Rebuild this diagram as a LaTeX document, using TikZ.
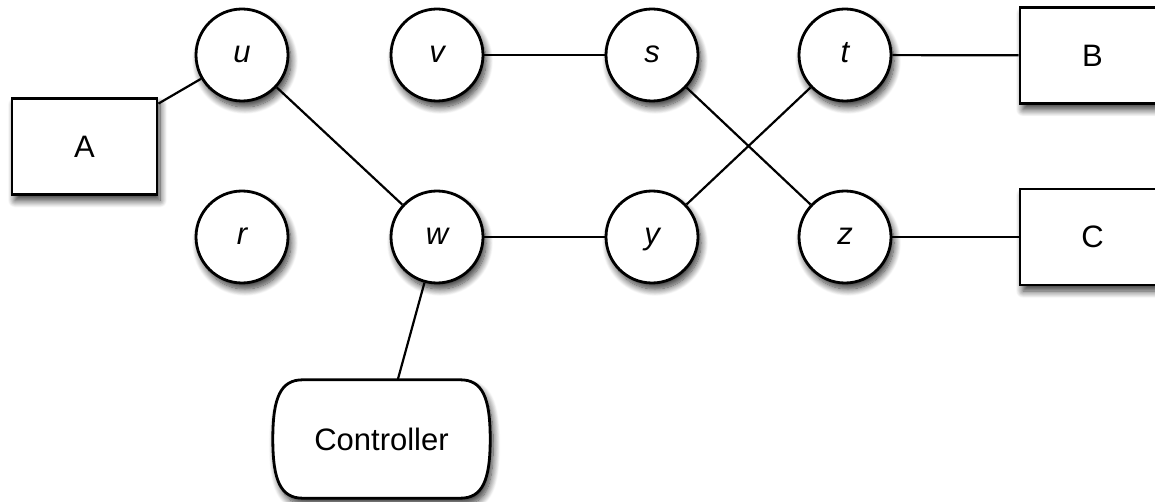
\documentclass[tikz,border=0pt]{standalone}
\usepackage{fontspec}
\setmainfont{Liberation Sans}
\usetikzlibrary{shadows.blur,calc}
\tikzset{
  dropshadow/.style={blur shadow={shadow xshift=3pt, shadow yshift=-6pt,
      shadow blur radius=7pt, shadow blur steps=12, shadow opacity=80}},
  label font/.style={font=\fontsize{31}{36}\selectfont},
  station/.style={circle, draw, line width=2.8pt, fill=white,
      minimum size=92pt, inner sep=0pt, dropshadow,
      text height=16pt, text depth=0pt,
      font=\fontsize{31}{36}\selectfont\itshape},
  device/.style={rectangle, draw, line width=2.8pt, fill=white,
      minimum width=145pt, minimum height=96pt, inner sep=0pt, dropshadow,
      label font},
  link/.style={line width=2.2pt},
}
\begin{document}
\begin{tikzpicture}[x=1pt, y=-1pt]
  \useasboundingbox (0,0) rectangle (1155,502);
  \clip (0,0) rectangle (1155,502);

  % terminal boxes
  \node[device] (A) at (84.5,146.5) {A};
  \node[device] (B) at (1092.5,55.5) {B};
  \node[device] (C) at (1092.5,237) {C};

  % switching stations
  \node[station] (u) at (242,55) {u};
  \node[station] (v) at (437,55) {v};
  \node[station] (s) at (652,55) {s};
  \node[station] (t) at (845,55) {t};
  \node[station] (r) at (242,237) {r};
  \node[station] (w) at (437,237) {w};
  \node[station] (y) at (652,237) {y};
  \node[station] (z) at (845,237) {z};

  % controller: a box with bulging, rounded ends
  \node[minimum width=217pt, minimum height=118pt, inner sep=0pt] (ctl) at (381.5,439) {};
  \path[draw, line width=2.8pt, fill=white, dropshadow]
    ($(ctl.north west)+(30,0)$) -- ($(ctl.north east)+(-30,0)$)
    .. controls ($(ctl.north east)+(-8,0)$) and ($(ctl.east)+(0,-42)$) .. (ctl.east)
    .. controls ($(ctl.east)+(0,42)$) and ($(ctl.south east)+(-8,0)$) .. ($(ctl.south east)+(-30,0)$)
    -- ($(ctl.south west)+(30,0)$)
    .. controls ($(ctl.south west)+(8,0)$) and ($(ctl.west)+(0,42)$) .. (ctl.west)
    .. controls ($(ctl.west)+(0,-42)$) and ($(ctl.north west)+(8,0)$) .. ($(ctl.north west)+(30,0)$)
    -- cycle;
  \node[label font] at (ctl.center) {Controller};

  % links
  \draw[link] (A) -- (u);
  \draw[link] (u) -- (w);
  \draw[link] (v) -- (s);
  \draw[link] (s) -- (z);
  \draw[link] (t) -- (y);
  \draw[link] (t) -- (B);
  \draw[link] (w) -- (y);
  \draw[link] (z) -- (C);
  \draw[link] (w) -- (ctl);
\end{tikzpicture}
\end{document}
